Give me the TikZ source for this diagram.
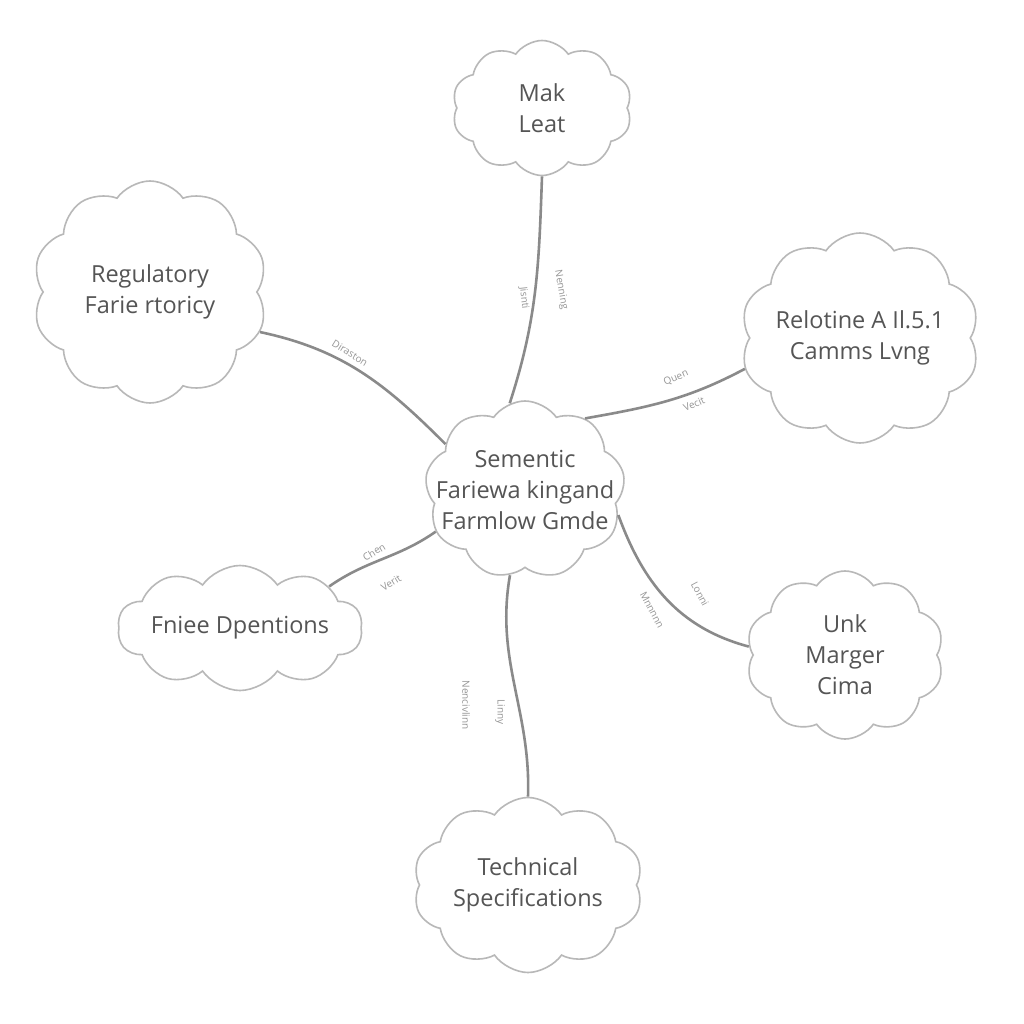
\documentclass[tikz,border=0pt]{standalone}
\usepackage{fontspec}
\setmainfont{Open Sans}
\usetikzlibrary{shapes.symbols}
\definecolor{txt}{HTML}{555555}
\definecolor{cl}{HTML}{B8B8B8}
\definecolor{ln}{HTML}{8A8A8A}
\begin{document}
\begin{tikzpicture}[x=1pt,y=-1pt,
  bubble/.style={cloud, cloud puffs=10, cloud puff arc=110, cloud ignores aspect, draw=cl, line width=1.6pt, fill=white, text=txt, font=\fontsize{23.5}{31}\selectfont, align=center, inner sep=0pt},
  link/.style={draw=ln, line width=2.6pt},
  elab/.style={text=ln!90, font=\fontsize{10}{12}\selectfont, inner sep=0pt}]
\useasboundingbox[fill=white] (0,0) rectangle (1024,1024);
\node[bubble, minimum width=200pt, minimum height=178pt, cloud puffs=9, inner xsep=-20pt, inner ysep=-8pt] (c) at (525,490) {Sementic\\Fariewa kingand\\Farmlow Gmde};
\node[bubble, minimum width=180pt, minimum height=135pt] (mak) at (542,108) {Mak\\Leat};
\node[bubble, minimum width=235pt, minimum height=222pt] (reg) at (150,292) {Regulatory\\Farie rtoricy};
\node[bubble, minimum width=235pt, minimum height=210pt] (rel) at (860,338) {Relotine A Il.5.1\\Camms Lvng};
\node[bubble, minimum width=230pt, minimum height=125pt] (free) at (240,628) {Fniee Dpentions};
\node[bubble, minimum width=198pt, minimum height=168pt] (unk) at (845,655) {Unk\\Marger\\Cima};
\node[bubble, minimum width=230pt, minimum height=175pt] (tech) at (528,885) {Technical\\Specifications};
\draw[link] (c.100) to[out=72,in=-92] (mak.south);
\draw[link] (reg.-20) to[out=-12,in=135] (c.150);
\draw[link] (c.50) to[out=10,in=208] (rel.195);
\draw[link] (free.25) to[out=35,in=215] (c.205);
\draw[link] (c.-15) to[out=-70,in=165] (unk.175);
\draw[link] (c.-100) to[out=-100,in=88] (tech.north);
\node[elab, rotate=-32] (l1) at (350,353) {Diraston};
\node[elab, rotate=-84] (l2) at (524,298) {Jisnti};
\node[elab, rotate=-80] (l3) at (561,290) {Nenning};
\node[elab, rotate=24] (l4) at (676,378) {Quen};
\node[elab, rotate=24] (l5) at (694,404) {Vecit};
\node[elab, rotate=32] (l6) at (374,552) {Chen};
\node[elab, rotate=32] (l7) at (391,583) {Verit};
\node[elab, rotate=-62] (l8) at (700,594) {Lonni};
\node[elab, rotate=-62] (l9) at (652,610) {Mnnnnn};
\node[elab, rotate=-90] (l10) at (466,705) {Nencivlinn};
\node[elab, rotate=-90] (l11) at (500,712) {Linny};
\end{tikzpicture}
\end{document}
